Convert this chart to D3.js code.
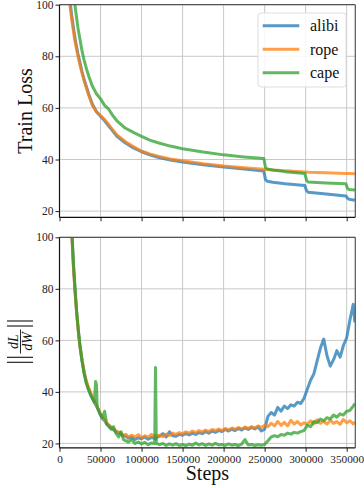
<!DOCTYPE html>
<html>
<head>
<meta charset="utf-8">
<script src="https://cdn.jsdelivr.net/npm/d3@7"></script>
<style>
  body { margin: 0; background: #fff; }
  svg { display: block; font-family: 'Liberation Serif', 'Times New Roman', serif; }
</style>
</head>
<body>
<div class="chart"></div>
<script>
const w = 364,
      h = 488;

const seriesNames = ['alibi', 'rope', 'cape'];
const colors = ['#1f77b4', '#ff7f0e', '#2ca02c'];
const xTicks = [0, 50000, 100000, 150000, 200000, 250000, 300000, 350000];
const yTicks = [20, 40, 60, 80, 100];

// train loss
const lossSteps = [12000, 13000, 15000, 17500, 20000, 22500, 25000, 27500, 30000, 33000, 36000, 40000, 45000, 50000,
  55000, 60000, 65000, 70000, 80000, 90000, 100000, 110000, 120000, 135000, 150000, 175000, 200000, 225000,
  249000, 251000, 253000, 260000, 275000, 299000, 301000, 303000, 325000, 349000, 351000, 353000, 360000];
const lossAlibi = [104, 101, 95.5, 90, 85, 81, 77.5, 74, 71, 68, 65, 61.5, 58.5, 56.8, 55, 53, 51, 49, 46.5, 44.5,
  43, 41.8, 40.9, 39.8, 39, 38, 37.1, 36.3, 35.5, 32.3, 31.6, 31.2, 30.6, 29.9, 28.0, 27.3, 26.6, 25.9, 25.0, 24.6, 24.2];
const lossRope = [102, 99, 94, 88.5, 84, 80, 76.5, 73.5, 70.5, 67.5, 64.5, 61, 58.5, 57, 55.5, 53.5, 51.5, 49.5, 47, 45,
  43.3, 42.2, 41.3, 40.2, 39.5, 38.4, 37.5, 36.8, 36.2, 36.1, 36.1, 35.9, 35.6, 35.2, 35.2, 35.1, 34.9, 34.6, 34.6, 34.6, 34.5];
const lossCape = [125, 120, 111, 103, 97, 91, 86.5, 82, 78.5, 75, 72, 68.5, 65.5, 63.5, 61, 59.5, 57, 55, 52.2, 50.5,
  49, 47.5, 46.5, 45.2, 44.2, 42.9, 41.8, 41, 40.4, 37, 36.3, 35.9, 35.3, 34.6, 32, 31.3, 30.9, 30.6, 28.8, 28.4, 28.2];

// gradient norm
const gradSteps = [15000, 17000, 19000, 21000, 23000, 25000, 27500, 30000, 32500, 35000, 37500, 40000, 42500, 44000,
  45000, 46000, 48000, 50000, 52500, 55000, 57500, 60000, 63000, 66000, 69000, 72000, 75000, 78000, 81000, 84000,
  88000, 92000, 96000, 100000, 104000, 108000, 112000, 116000, 117000, 118000,
  122000, 126000, 130000, 134000, 138000, 142000, 146000, 150000, 154000, 158000, 162000, 166000, 170000, 174000,
  178000, 182000, 186000, 190000, 194000, 198000, 202000, 206000, 210000, 214000, 218000, 222000, 226000, 230000,
  234000, 238000, 242000, 246000, 250000,
  254000, 258000, 262000, 266000, 270000, 274000, 278000, 282000, 286000, 290000, 294000, 298000, 302000, 306000,
  310000, 314000, 318000, 322000, 326000, 330000, 334000, 338000, 342000, 346000, 350000, 354000, 358000, 360000];
const gradAlibi = [102, 89, 79, 70.5, 63.5, 57.5, 52, 47.5, 44, 41.5, 39.5, 37.5, 36, 35, 34.5, 34, 32.5, 31, 29.5, 28.8,
  27.5, 27, 26, 25.2, 24.5, 24.2, 23.5, 23, 22.8, 22, 22.5, 21.5, 22.2, 21.8, 22.5, 21.6, 22.3, 22, 21.7, 22.2,
  22.8, 23.8, 22.5, 24.5, 23, 22.8, 23.5, 23.2, 23.8, 23.3, 24, 23.5, 24.2, 23.8, 24.6, 24, 24.8, 24.3, 25, 24.6,
  25.4, 24.8, 25.5, 25, 25.8, 25.2, 26, 25.4, 26.2, 25.6, 26.5, 24.8, 25.5,
  30.5, 32, 31, 34, 32.5, 34.5, 33.5, 35, 34.5, 36, 35.5, 37.5, 41, 44.5, 47, 52, 57, 60.5, 54, 50, 52.5, 56, 53.5,
  58, 61, 68, 74, 67];
const gradRope = [101, 88, 78.5, 70, 63, 57.5, 52.5, 48, 44.5, 42, 40, 38, 36.5, 35.5, 35, 34, 33, 31.5, 30, 29,
  28, 27.2, 26.5, 25.5, 24.8, 24.5, 24, 23, 23.5, 22.5, 23.2, 22.5, 23.4, 22.2, 23, 22.4, 23.5, 22.5, 23.2, 22.6,
  23.2, 22.6, 23.6, 23, 24, 23.5, 24.2, 23.7, 24.5, 24, 24.8, 24.2, 25, 24.5, 25.2, 24.6, 25.4, 25, 25.6, 25,
  25.8, 25.3, 26, 25.5, 26.2, 25.6, 26.4, 25.8, 26.5, 26, 26.8, 26.2, 27,
  26.5, 27.8, 26.8, 28.5, 27, 28.2, 26.8, 29, 27.5, 28.5, 27.2, 28, 27.5, 28.8, 27.6, 29.2, 27.8, 28.6, 27.5, 29,
  27.8, 28.5, 27.4, 29.3, 28, 28.8, 27.6, 28.3];
const gradCape = [103, 90, 80, 71, 64, 58, 52, 47, 43.5, 41, 39, 37.5, 36, 44, 43, 34, 32.5, 31, 30, 32.5,
  27.5, 26.5, 25.5, 26.5, 23.8, 22.5, 24.5, 21.5, 21, 20.5, 21.5, 20, 20.5, 19.8, 20.4, 19.5, 20.2, 20, 49.5, 20,
  19.5, 20, 19.2, 19.8, 19.3, 19.9, 19.2, 19.6, 19.1, 19.7, 19.3, 20.2, 19.4, 19.9, 19.2, 19.8, 19.3, 20, 19.4, 19.6,
  19.2, 19.8, 19.3, 19.6, 19.1, 19.7, 21.5, 19.4, 19.6, 19.2, 19.5, 19.3, 19.6,
  21, 22.5, 23, 22.6, 23.5, 23.2, 24, 23.6, 24.3, 24, 24.6, 25, 27, 26.5, 28.5, 28, 29.5, 28.8, 30, 29.5, 31,
  30.2, 31.5, 31, 32.5, 32.8, 34.5, 35.5];

const svg = d3
  .select('.chart')
  .append('svg')
  .attr('width', w)
  .attr('height', h);

const left = 59.5,
      right = 355.3;

const xScale = d3.scaleLinear()
  .domain([0, 360500])
  .range([left, right]);

const panels = [
  { id: 'loss', top: 4.7, bottom: 217.3, ymin: 17.6, steps: lossSteps, data: [lossAlibi, lossRope, lossCape], labels: false },
  { id: 'grad', top: 237.3, bottom: 447.8, ymin: 18.3, steps: gradSteps, data: [gradAlibi, gradRope, gradCape], labels: true }
];

panels.forEach(p => {
  const yScale = d3.scaleLinear()
    .domain([p.ymin, 100])
    .range([p.bottom, p.top]);

  const g = svg.append('g').attr('id', p.id);

  g.append('clipPath')
    .attr('id', `clip-${p.id}`)
    .append('rect')
    .attr('x', left)
    .attr('y', p.top)
    .attr('width', right - left)
    .attr('height', p.bottom - p.top);

  // grid
  g.selectAll('.vgrid')
    .data(xTicks.slice(1))
    .enter()
    .append('line')
    .attr('x1', d => xScale(d))
    .attr('x2', d => xScale(d))
    .attr('y1', p.top)
    .attr('y2', p.bottom)
    .attr('stroke', '#c8c8c8')
    .attr('stroke-width', 1);

  g.selectAll('.hgrid')
    .data(yTicks)
    .enter()
    .append('line')
    .attr('x1', left)
    .attr('x2', right)
    .attr('y1', d => yScale(d))
    .attr('y2', d => yScale(d))
    .attr('stroke', '#c8c8c8')
    .attr('stroke-width', 1);

  // lines
  const line = d3.line()
    .x((d, i) => xScale(p.steps[i]))
    .y(d => yScale(d));

  g.append('g')
    .attr('clip-path', `url(#clip-${p.id})`)
    .selectAll('path')
    .data(p.data)
    .enter()
    .append('path')
    .attr('d', d => line(d))
    .attr('fill', 'none')
    .attr('stroke', (d, i) => colors[i])
    .attr('stroke-opacity', 0.75)
    .attr('stroke-width', 3)
    .attr('stroke-linejoin', 'round');

  // axes
  const yAxis = d3.axisLeft(yScale).tickValues(yTicks).tickSize(4).tickPadding(2);
  const yG = g.append('g')
    .attr('transform', `translate(${left}, 0)`)
    .call(yAxis)
    .attr('font-family', null)
    .attr('font-size', null);
  yG.select('.domain').remove();
  yG.selectAll('text').style('font-size', '11.5px').attr('fill', '#222');
  yG.selectAll('line').attr('stroke', '#222');

  const xAxis = d3.axisBottom(xScale).tickValues(xTicks).tickSize(4).tickPadding(3)
    .tickFormat(p.labels ? d3.format('d') : '');
  const xG = g.append('g')
    .attr('transform', `translate(0, ${p.bottom})`)
    .call(xAxis)
    .attr('font-family', null)
    .attr('font-size', null);
  xG.select('.domain').remove();
  xG.selectAll('text').style('font-size', '11.3px').attr('fill', '#222');
  xG.selectAll('line').attr('stroke', '#222');

  // spines
  g.append('line').attr('x1', left).attr('x2', right).attr('y1', p.top).attr('y2', p.top)
    .attr('stroke', '#555').attr('stroke-width', 1.2);
  g.append('line').attr('x1', right).attr('x2', right).attr('y1', p.top).attr('y2', p.bottom)
    .attr('stroke', '#555').attr('stroke-width', 1.2);
  g.append('line').attr('x1', left).attr('x2', left).attr('y1', p.top).attr('y2', p.bottom)
    .attr('stroke', '#111').attr('stroke-width', 1.2);
  g.append('line').attr('x1', left).attr('x2', right).attr('y1', p.bottom).attr('y2', p.bottom)
    .attr('stroke', '#111').attr('stroke-width', 1.2);
});

// legend
const legend = svg.append('g').attr('id', 'legend');
legend.append('rect')
  .attr('x', 258)
  .attr('y', 13)
  .attr('width', 88)
  .attr('height', 74)
  .attr('rx', 3)
  .attr('fill', '#fff')
  .attr('fill-opacity', 0.85)
  .attr('stroke', '#ddd');

const items = legend.selectAll('.legend-label')
  .data(seriesNames)
  .enter()
  .append('g')
  .attr('class', 'legend-label')
  .attr('transform', (d, i) => `translate(0, ${25.7 + i * 23.5})`);

items.append('line')
  .attr('x1', 262.7)
  .attr('x2', 299.3)
  .attr('stroke', (d, i) => colors[i])
  .attr('stroke-opacity', 0.75)
  .attr('stroke-width', 3);

items.append('text')
  .attr('x', 310)
  .attr('y', 5.5)
  .style('font-size', '16px')
  .attr('fill', '#111')
  .text(d => d);

// axis titles
svg.append('text')
  .attr('transform', 'translate(32, 111) rotate(-90)')
  .attr('text-anchor', 'middle')
  .style('font-size', '20px')
  .attr('fill', '#111')
  .text('Train Loss');

svg.append('text')
  .attr('x', 207.4)
  .attr('y', 480)
  .attr('text-anchor', 'middle')
  .style('font-size', '20px')
  .attr('fill', '#111')
  .text('Steps');

// ||dL/dW|| label
const gl = svg.append('g').attr('transform', 'translate(20.5, 341.5) rotate(-90)');
[-20.8, -15.8, 15.5, 20.5].forEach(x => {
  gl.append('line')
    .attr('x1', x).attr('x2', x)
    .attr('y1', -13.5).attr('y2', 12.5)
    .attr('stroke', '#111').attr('stroke-width', 1.1);
});
gl.append('line')
  .attr('x1', -12).attr('x2', 12)
  .attr('y1', 0).attr('y2', 0)
  .attr('stroke', '#111').attr('stroke-width', 0.9);
gl.append('text')
  .attr('x', 0).attr('y', -2.5)
  .attr('text-anchor', 'middle')
  .style('font-size', '14px')
  .style('font-style', 'italic')
  .attr('fill', '#111')
  .text('dL');
gl.append('text')
  .attr('x', 0).attr('y', 11.5)
  .attr('text-anchor', 'middle')
  .style('font-size', '14px')
  .style('font-style', 'italic')
  .attr('fill', '#111')
  .text('dW');
</script>
</body>
</html>
